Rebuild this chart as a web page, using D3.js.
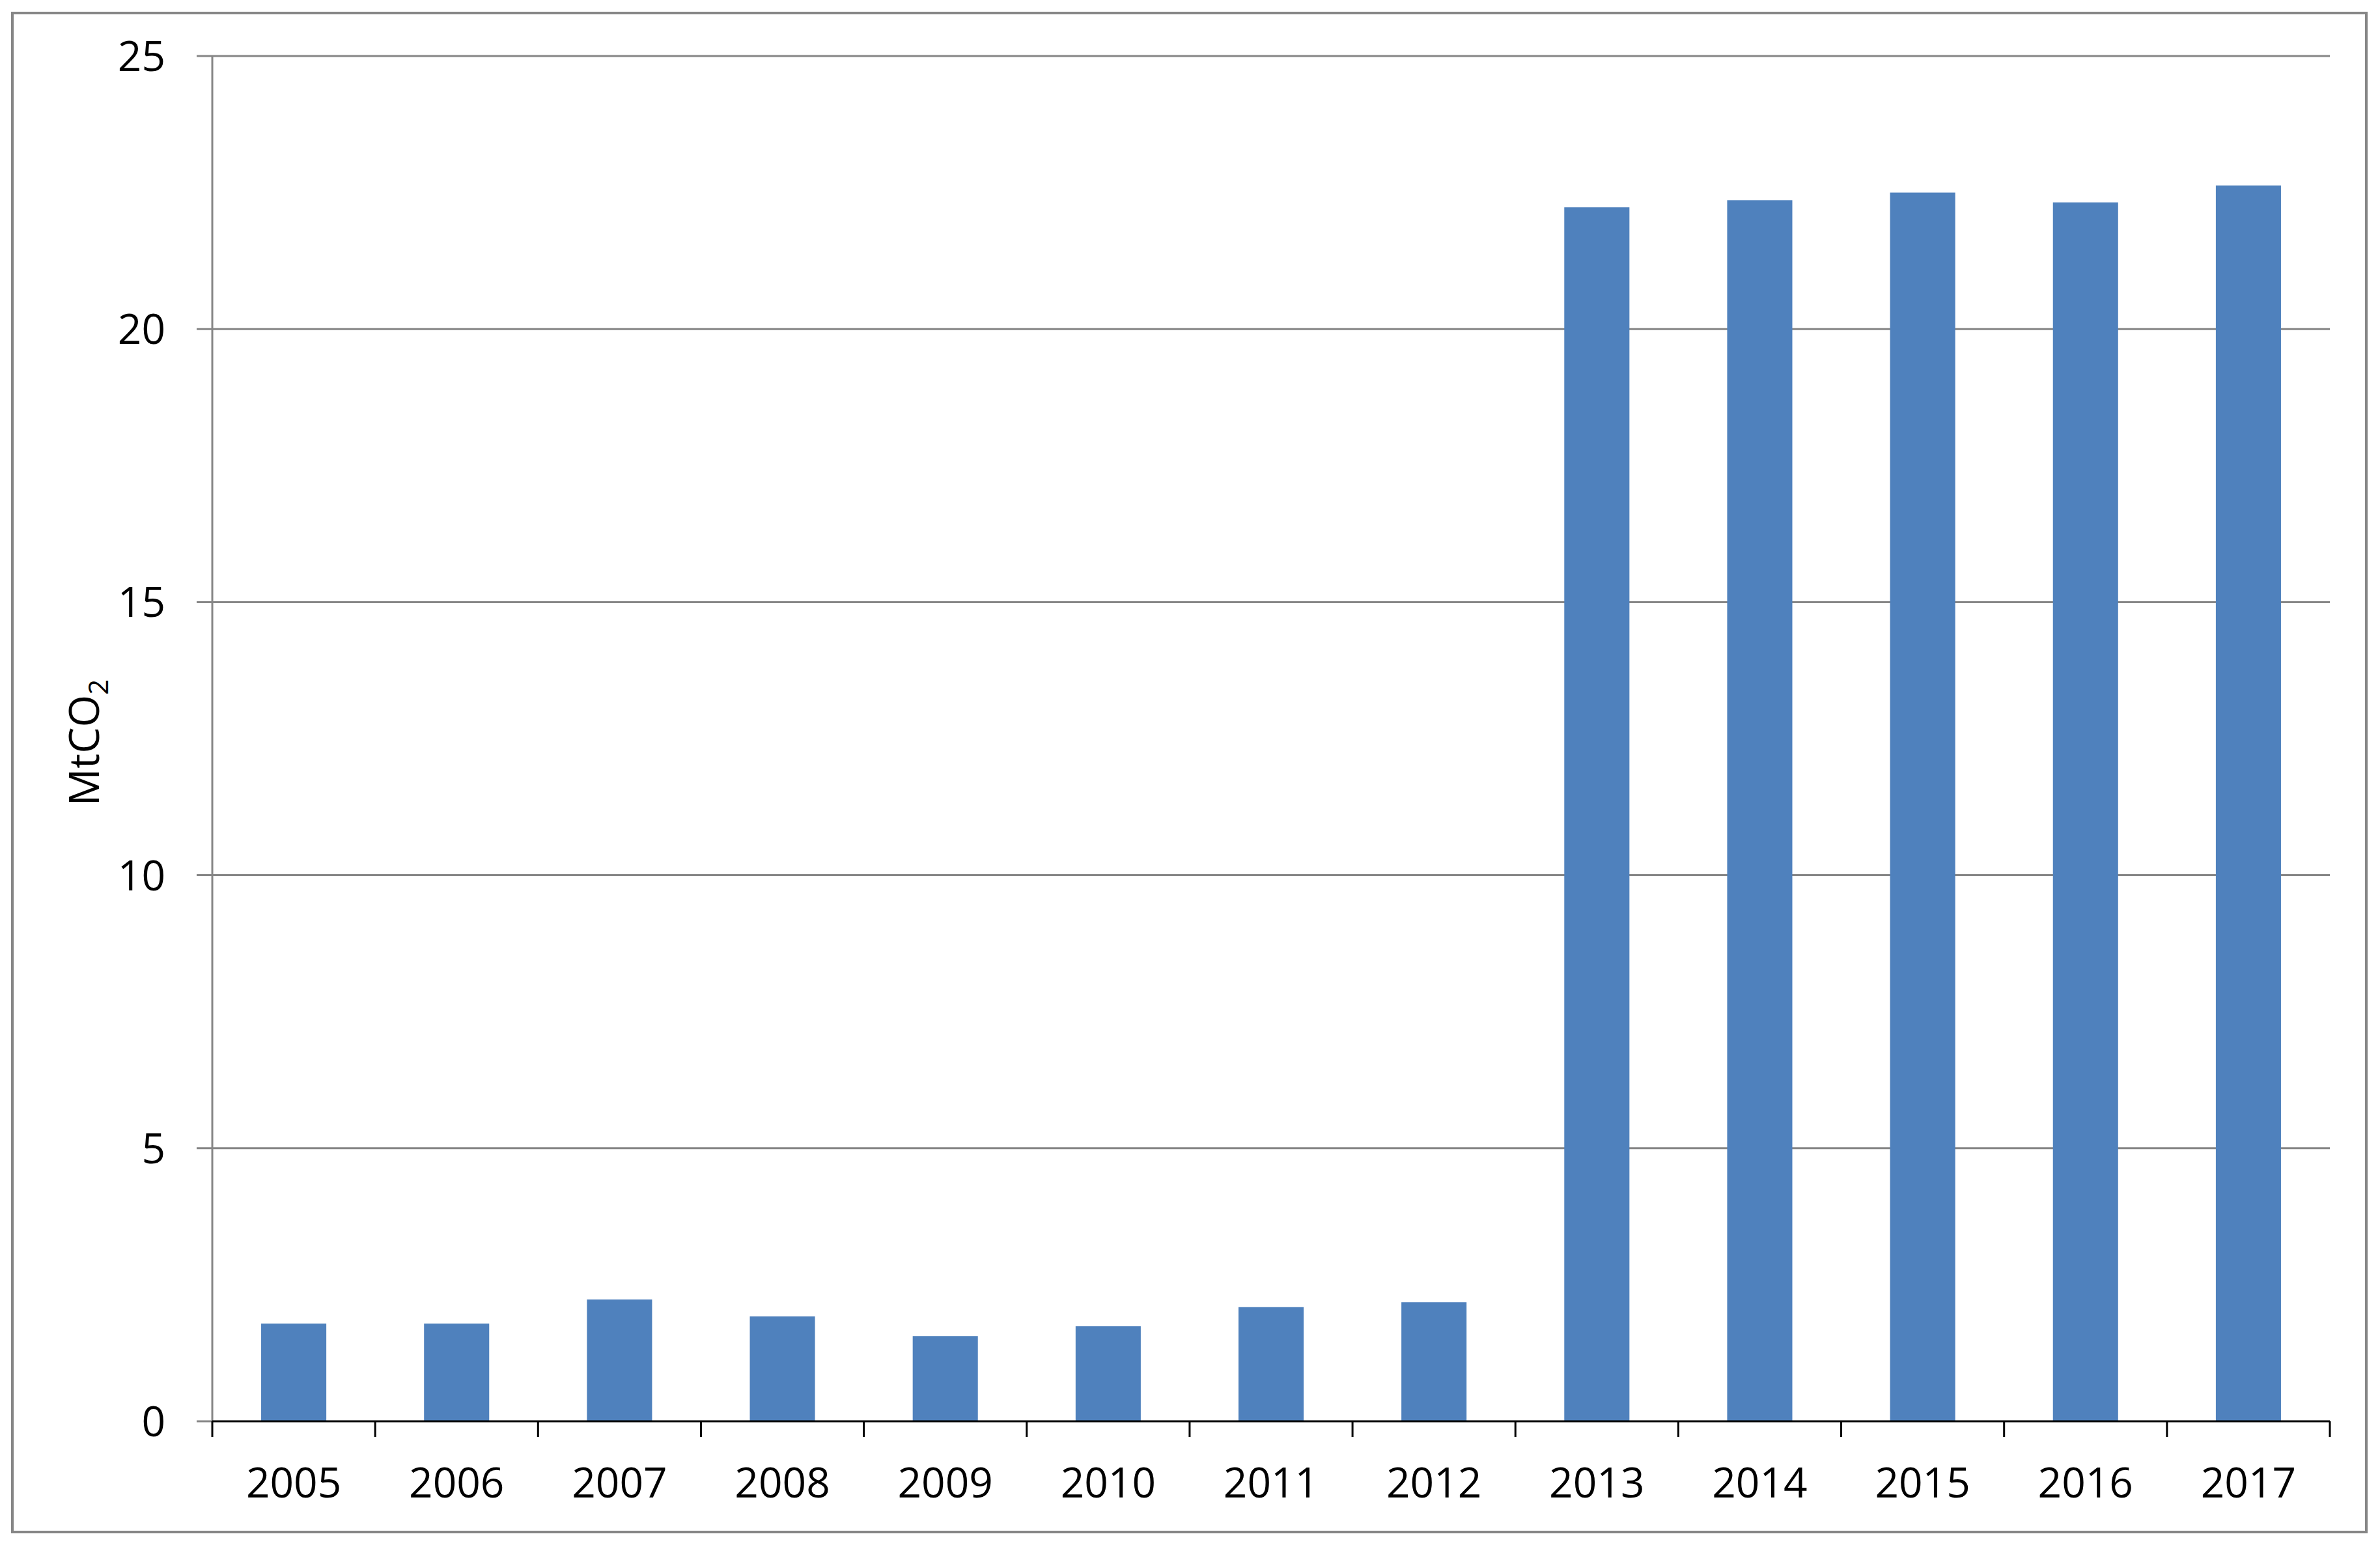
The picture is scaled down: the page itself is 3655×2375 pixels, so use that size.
<!DOCTYPE html>
<html>
<head>
<meta charset="utf-8">
<script src="https://cdn.jsdelivr.net/npm/d3@7"></script>
<style>
  html, body { margin: 0; padding: 0; background: #fff; }
  svg { display: block; }
</style>
</head>
<body>
<div id="chart"></div>
<script>
const years = ["2005","2006","2007","2008","2009","2010","2011","2012","2013","2014","2015","2016","2017"];
const values = [1.79, 1.79, 2.23, 1.92, 1.56, 1.74, 2.09, 2.18, 22.23, 22.36, 22.50, 22.32, 22.63];
const yTicks = [0, 5, 10, 15, 20, 25];

const W = 3655, H = 2375;
const pLeft = 326, pRight = 3578, pTop = 86, pBottom = 2182;
const gray = "#868686";

const svg = d3.select("#chart").append("svg")
  .attr("width", W).attr("height", H);

svg.append("rect").attr("width", W).attr("height", H).attr("fill", "#fff");

// outer frame
svg.append("rect")
  .attr("x", 19).attr("y", 20)
  .attr("width", 3634 - 19).attr("height", 2352 - 20)
  .attr("fill", "none").attr("stroke", gray).attr("stroke-width", 4);

const x = d3.scaleBand().domain(years).range([pLeft, pRight])
  .paddingInner(0.6).paddingOuter(0.3);
const y = d3.scaleLinear().domain([0, 25]).range([pBottom, pTop]);

// gridlines + y ticks
svg.append("g").selectAll("line").data(yTicks.filter(d => d > 0)).join("line")
  .attr("x1", pLeft - 24).attr("x2", pRight)
  .attr("y1", d => y(d)).attr("y2", d => y(d))
  .attr("stroke", gray).attr("stroke-width", 3);
svg.append("line")
  .attr("x1", pLeft - 24).attr("x2", pLeft)
  .attr("y1", y(0)).attr("y2", y(0))
  .attr("stroke", gray).attr("stroke-width", 3);

// y axis line
svg.append("line")
  .attr("x1", pLeft).attr("x2", pLeft)
  .attr("y1", y(25)).attr("y2", y(0))
  .attr("stroke", gray).attr("stroke-width", 3);

// y tick labels
svg.append("g").selectAll("text").data(yTicks).join("text")
  .attr("x", 254).attr("y", d => y(d))
  .attr("dy", "0.36em")
  .attr("text-anchor", "end")
  .attr("font-family", "'Open Sans', sans-serif")
  .attr("font-size", 64)
  .attr("fill", "#000")
  .text(d => d);

// bars
svg.append("g").selectAll("rect").data(values).join("rect")
  .attr("x", (d, i) => x(years[i]))
  .attr("width", x.bandwidth())
  .attr("y", d => y(d))
  .attr("height", d => y(0) - y(d))
  .attr("fill", "#4F81BD");

// x axis
svg.append("line")
  .attr("x1", pLeft).attr("x2", pRight)
  .attr("y1", pBottom).attr("y2", pBottom)
  .attr("stroke", "#000").attr("stroke-width", 3);

const step = x.step();
const boundaries = d3.range(years.length + 1).map(i => pLeft + i * step);
svg.append("g").selectAll("line").data(boundaries).join("line")
  .attr("x1", d => d).attr("x2", d => d)
  .attr("y1", pBottom).attr("y2", pBottom + 24)
  .attr("stroke", "#000").attr("stroke-width", 3);

svg.append("g").selectAll("text").data(years).join("text")
  .attr("x", d => x(d) + x.bandwidth() / 2)
  .attr("y", 2276)
  .attr("dy", "0.36em")
  .attr("text-anchor", "middle")
  .attr("font-family", "'Open Sans', sans-serif")
  .attr("font-size", 64)
  .attr("fill", "#000")
  .text(d => d);

// y axis title
const title = svg.append("text")
  .attr("transform", "translate(152,1140) rotate(-90)")
  .attr("text-anchor", "middle")
  .attr("font-family", "'Open Sans', sans-serif")
  .attr("font-size", 64)
  .attr("fill", "#000");
title.append("tspan").text("MtCO");
title.append("tspan").attr("font-size", 42).attr("dy", 14).text("2");
</script>
</body>
</html>
